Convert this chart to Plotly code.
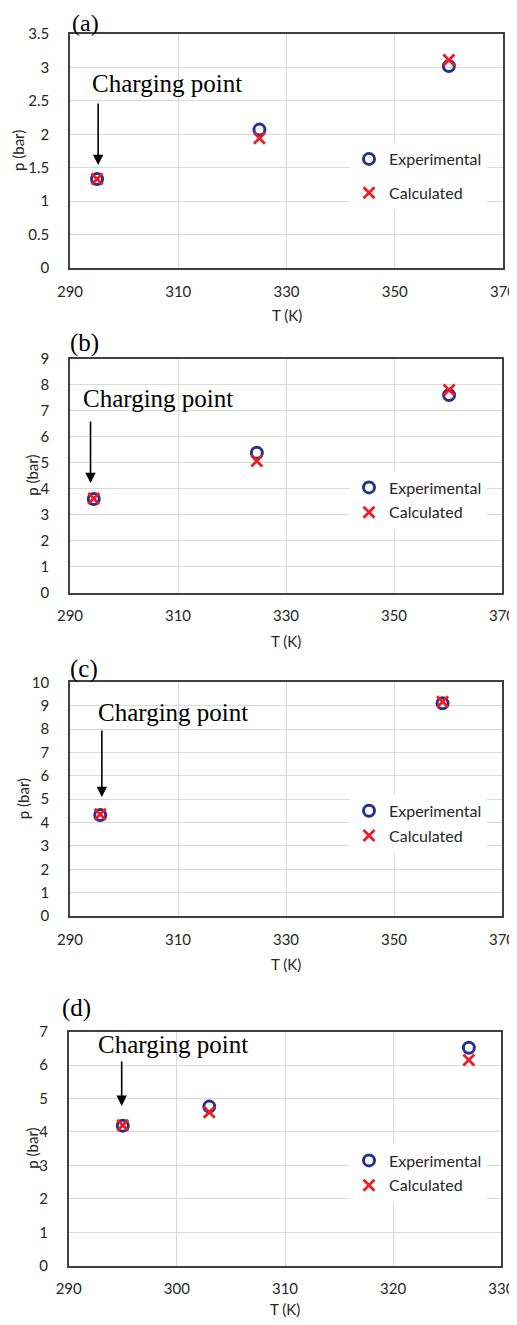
import plotly.graph_objects as go

# ---------------- data ----------------
T_a = [295, 325, 360]
p_exp_a = [1.33, 2.07, 3.02]
T_calc_a = [295, 325, 360]
p_calc_a = [1.33, 1.94, 3.11]

T_b = [294.4, 324.6, 360.2]
p_exp_b = [3.61, 5.39, 7.61]
p_calc_b = [3.63, 5.07, 7.81]

T_c = [295.6, 359.0]
p_exp_c = [4.32, 9.10]
p_calc_c = [4.35, 9.17]

T_d = [295, 303, 327]
p_exp_d = [4.19, 4.76, 6.52]
p_calc_d = [4.20, 4.59, 6.15]

panel_labels = ["(a)", "(b)", "(c)", "(d)"]
x_ranges = [[290, 370], [290, 370], [290, 370], [290, 330]]
x_dticks = [20, 20, 20, 10]
y_ranges = [[0, 3.5], [0, 9], [0, 10], [0, 7]]
y_dticks = [0.5, 1, 1, 1]
x_title = "T (K)"
y_title = "p (bar)"
series_names = ["Experimental", "Calculated"]
annot_text = "Charging point"

# ---------------- layout geometry (page px; body has an 8px margin) ----------------
OFF = 8
W, H = 517 - OFF, 1325 - 2 * OFF


def px(v):
    return (v - OFF) / W


def py(v):
    return 1 - (v - OFF) / H


boxes = [  # left, right, top, bottom in page px
    (70, 503, 34, 268),
    (70, 502, 359, 592.7),
    (70, 502, 682.3, 916),
    (68.7, 501.3, 1031.7, 1265.7),
]
label_pos = [(71, 23), (69, 343), (69, 669), (61, 1008)]
label_sizes = [24, 25, 25, 25]
text_pos = [(0.046, 0.79), (0.025, 0.829), (0.060, 0.869), (0.063, 0.946)]
arrows = [(295.2, 1.54, -63), (293.8, 4.22, -63), (295.9, 5.09, -68), (294.9, 4.78, -46)]
legend_centers = [176, 500, 823.3, 1173]
legend_gaps = [10, 1, 1, 1]
ytitle_x = [18, 32, 23, 32]
xtitle_y = [315, 641, 964, 1309]

data_sets = [
    (T_a, p_exp_a, T_calc_a, p_calc_a),
    (T_b, p_exp_b, T_b, p_calc_b),
    (T_c, p_exp_c, T_c, p_calc_c),
    (T_d, p_exp_d, T_d, p_calc_d),
]

NAVY = "#27328c"
RED = "#ee1c25"
GRID = "#d9d9d9"
AXIS = "#404040"
TXT = "#262626"
TICKFONT = dict(family="Lato, Carlito, sans-serif", size=15, color=TXT)
SERIF = "Liberation Serif, Times New Roman, serif"

fig = go.Figure()
layout = dict(
    width=W, height=H, margin=dict(l=0, r=0, t=0, b=0, autoexpand=False),
    paper_bgcolor="white", plot_bgcolor="white",
    annotations=[],
)

for i, (tx, pe, tc, pc) in enumerate(data_sets):
    n = "" if i == 0 else str(i + 1)
    xa, ya = "x" + n, "y" + n
    leg = "legend" + n
    fig.add_trace(go.Scatter(
        x=tx, y=pe, mode="markers", name=series_names[0],
        xaxis=xa, yaxis=ya, legend=leg, legendgroup="e" + n,
        marker=dict(symbol="circle-open", size=11, color=NAVY, line=dict(width=3, color=NAVY)),
    ))
    fig.add_trace(go.Scatter(
        x=tc, y=pc, mode="markers", name=series_names[1],
        xaxis=xa, yaxis=ya, legend=leg, legendgroup="c" + n,
        marker=dict(symbol="x-thin-open", size=11, color=RED, line=dict(width=2.8, color=RED)),
    ))
    l, r, t, b = boxes[i]
    common = dict(showgrid=True, gridcolor=GRID, gridwidth=1, zeroline=False,
                  showline=True, mirror=True, linecolor=AXIS, linewidth=1.5,
                  ticks="", tickfont=TICKFONT, automargin=False)
    layout["xaxis" + n] = dict(
        domain=[px(l), px(r)], anchor=ya, range=x_ranges[i], dtick=x_dticks[i],
        tick0=x_ranges[i][0], ticklabelstandoff=9, ticklabeloverflow="allow",
        **common)
    layout["yaxis" + n] = dict(
        domain=[py(b), py(t)], anchor=xa, range=y_ranges[i], dtick=y_dticks[i],
        tick0=0, ticklabelstandoff=16, ticklabeloverflow="allow",
        **common)
    # axis titles
    layout["annotations"].append(dict(
        text=y_title, xref="paper", yref="paper", x=px(ytitle_x[i]), y=py((t + b) / 2),
        xanchor="center", yanchor="middle", textangle=-90, showarrow=False,
        font=dict(family="Lato, sans-serif", size=15, color=TXT)))
    layout["annotations"].append(dict(
        text=x_title, xref="paper", yref="paper", x=px((l + r) / 2), y=py(xtitle_y[i]),
        xanchor="center", yanchor="middle", showarrow=False,
        font=dict(family="Lato, sans-serif", size=15, color=TXT)))
    layout[leg] = dict(
        x=px(349), xanchor="left", y=py(legend_centers[i]), yanchor="middle",
        bgcolor="white", borderwidth=0, itemwidth=30, tracegroupgap=legend_gaps[i],
        font=dict(family="Lato, sans-serif", size=16, color=TXT),
    )
    # panel label
    lx, ly = label_pos[i]
    layout["annotations"].append(dict(
        text=panel_labels[i], xref="paper", yref="paper", x=px(lx), y=py(ly),
        xanchor="left", yanchor="middle", showarrow=False, borderpad=0,
        font=dict(family=SERIF, size=label_sizes[i], color="black")))
    # charging point text
    tx_, ty_ = text_pos[i]
    layout["annotations"].append(dict(
        text=annot_text, xref=xa + " domain", yref=ya + " domain", x=tx_, y=ty_,
        xanchor="left", yanchor="middle", showarrow=False,
        font=dict(family=SERIF, size=25, color="black")))
    # arrow
    ax_, ay_, off = arrows[i]
    layout["annotations"].append(dict(
        text="", xref=xa, yref=ya, x=ax_, y=ay_, ax=0, ay=off,
        showarrow=True, arrowhead=2, arrowsize=1.3, arrowwidth=1.6, arrowcolor="black", standoff=0))

fig.update_layout(**layout)
fig.write_html("out.html")
